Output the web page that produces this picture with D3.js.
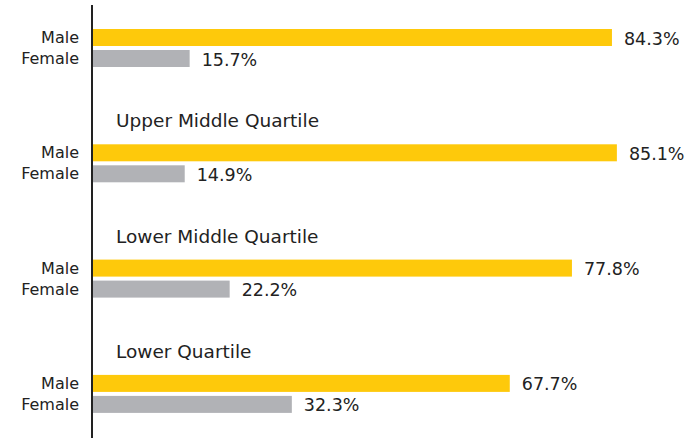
<!DOCTYPE html>
<html><head><meta charset="utf-8">
<script src="https://cdn.jsdelivr.net/npm/d3@7"></script>
<style>html,body{margin:0;padding:0;background:#fff;}svg{display:block;}</style>
</head><body>
<svg id="chart" width="699" height="438"></svg>
<script>
const quartiles = ["Upper Quartile", "Upper Middle Quartile", "Lower Middle Quartile", "Lower Quartile"];
const shownTitles = [null, "Upper Middle Quartile", "Lower Middle Quartile", "Lower Quartile"];
const sexes = ["Male", "Female"];
const maleValues = [84.3, 85.1, 77.8, 67.7];
const femaleValues = [15.7, 14.9, 22.2, 32.3];
const colors = {Male: "#FEC90B", Female: "#B1B2B6"};

const svg = d3.select("#chart");
const x = d3.scaleLinear().domain([0, 100]).range([93, 708.6]);
const y = d3.scaleBand().domain(quartiles).range([29, 29 + 4 * 115.3]);
const ySex = d3.scaleBand().domain(sexes).range([0, 38]).paddingInner(4 / 21);

const rows = [];
quartiles.forEach((q, i) => {
  rows.push({q, sex: "Male", v: maleValues[i]});
  rows.push({q, sex: "Female", v: femaleValues[i]});
});

const font = "'DejaVu Sans', sans-serif";

svg.selectAll("rect.bar").data(rows).join("rect")
  .attr("class", "bar")
  .attr("x", x(0))
  .attr("y", d => y(d.q) + ySex(d.sex))
  .attr("width", d => x(d.v) - x(0))
  .attr("height", ySex.bandwidth())
  .attr("fill", d => colors[d.sex]);

svg.selectAll("text.val").data(rows).join("text")
  .attr("class", "val")
  .attr("x", d => x(d.v) + 12)
  .attr("y", d => y(d.q) + ySex(d.sex) + ySex.bandwidth() / 2 + 2)
  .attr("dominant-baseline", "middle")
  .attr("font-family", font)
  .attr("font-size", 17.5)
  .attr("fill", "#222")
  .text(d => d.v.toFixed(1) + "%");

svg.selectAll("text.sex").data(rows).join("text")
  .attr("class", "sex")
  .attr("x", 79)
  .attr("y", d => y(d.q) + ySex(d.sex) + ySex.bandwidth() / 2 + 1)
  .attr("text-anchor", "end")
  .attr("dominant-baseline", "middle")
  .attr("font-family", font)
  .attr("font-size", 16)
  .attr("fill", "#222")
  .text(d => d.sex);

svg.selectAll("text.title").data(quartiles.map((q, i) => ({q, t: shownTitles[i]})).filter(d => d.t))
  .join("text")
  .attr("class", "title")
  .attr("x", 116)
  .attr("y", d => y(d.q) - 17)
  .attr("font-family", font)
  .attr("font-size", 18.5)
  .attr("fill", "#222")
  .text(d => d.t);

svg.append("line")
  .attr("x1", 92).attr("x2", 92)
  .attr("y1", 5).attr("y2", 438)
  .attr("stroke", "#222").attr("stroke-width", 2);
</script>
</body></html>
